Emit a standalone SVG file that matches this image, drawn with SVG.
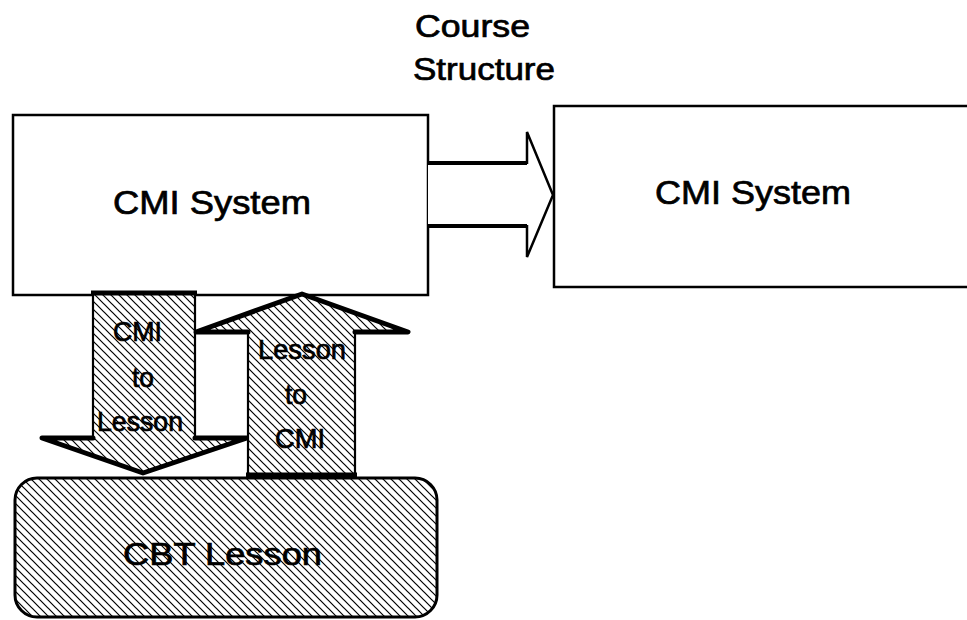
<svg xmlns="http://www.w3.org/2000/svg" width="967" height="620" viewBox="0 0 967 620">
  <defs>
    <!-- diagonal hatch used by the lesson block and the two data-flow arrows -->
    <pattern id="hatch" patternUnits="userSpaceOnUse" width="8" height="8">
      <rect width="8" height="8" fill="#fff"/>
      <path d="M0,0 L8,8 M-2,6 L2,10 M6,-2 L10,2" stroke="#000" stroke-width="1.2"/>
    </pattern>
  </defs>
  <style>
    .box { fill: #fff; stroke: #000; stroke-width: 2.5; }
    .lbl { font-family: "Liberation Sans", Arial, Helvetica, sans-serif; fill: #000; stroke: #000; stroke-width: 0.7; }
    .thin { fill: none; stroke: #000; stroke-width: 2.2; stroke-linejoin: miter; }
    .thick { fill: none; stroke: #000; stroke-width: 5; stroke-linecap: round; stroke-linejoin: round; }
  </style>
  <rect width="967" height="620" fill="#fff"/>

  <!-- lesson block -->
  <g id="cbt-lesson">
    <rect x="15" y="478" width="422" height="139" rx="22" ry="22" fill="url(#hatch)" stroke="#000" stroke-width="3"/>
    <text class="lbl" x="123" y="565" font-size="32" textLength="199" lengthAdjust="spacingAndGlyphs">CBT Lesson</text>
  </g>

  <!-- sending management system -->
  <g id="cmi-left">
    <rect class="box" x="13" y="115" width="415" height="180"/>
    <text class="lbl" x="113" y="214" font-size="33" textLength="198" lengthAdjust="spacingAndGlyphs">CMI System</text>
  </g>

  <!-- receiving management system (runs off the right edge) -->
  <g id="cmi-right">
    <rect class="box" x="554" y="106" width="420" height="181"/>
    <text class="lbl" x="655" y="204" font-size="33" textLength="196" lengthAdjust="spacingAndGlyphs">CMI System</text>
  </g>

  <g id="connectors">
    <!-- course structure transfer arrow -->
    <g id="course-structure-arrow">
      <path d="M428,194 L428,163 L527,163 L527,132 L553,195 L527,257 L527,226 L428,226 Z" fill="#fff" stroke="none"/>
      <path d="M428,163 L527,163 M428,226 L527,226" stroke="#000" stroke-width="4" fill="none"/>
      <path d="M527,164 L527,132 L553,195 L527,257 L527,225" stroke="#000" stroke-width="2.5" fill="none"/>
    </g>

    <!-- CMI to Lesson (down) -->
    <g id="cmi-to-lesson">
      <path d="M93,293 L195,293 L195,438 L247,438 L143,473 L42,438 L93,438 Z" fill="url(#hatch)" stroke="none"/>
      <path class="thin" d="M93,293 L93,438 M195,293 L195,438"/>
      <path d="M91,293 L197,293" stroke="#000" stroke-width="5" fill="none"/>
      <path class="thick" d="M93,438 L42,438 L143,473 L247,438 L195,438"/>
      <text class="lbl" x="113" y="341" font-size="28" textLength="49" lengthAdjust="spacingAndGlyphs">CMI</text>
      <text class="lbl" x="132" y="387" font-size="28" textLength="22" lengthAdjust="spacingAndGlyphs">to</text>
      <text class="lbl" x="97" y="431" font-size="28" textLength="86" lengthAdjust="spacingAndGlyphs">Lesson</text>
    </g>

    <!-- Lesson to CMI (up) -->
    <g id="lesson-to-cmi">
      <path d="M248,475 L355,475 L355,332 L408,332 L302,294 L196,332 L248,332 Z" fill="url(#hatch)" stroke="none"/>
      <path class="thin" d="M248,332 L248,475 M355,332 L355,475"/>
      <path d="M246,475 L357,475" stroke="#000" stroke-width="5" fill="none"/>
      <path class="thick" d="M248,332 L196,332 L302,294 L408,332 L355,332"/>
      <text class="lbl" x="258" y="359" font-size="28" textLength="88" lengthAdjust="spacingAndGlyphs">Lesson</text>
      <text class="lbl" x="285" y="404" font-size="28" textLength="22" lengthAdjust="spacingAndGlyphs">to</text>
      <text class="lbl" x="275" y="448" font-size="28" textLength="50" lengthAdjust="spacingAndGlyphs">CMI</text>
    </g>

    <!-- arrow label -->
    <g id="course-structure-label">
      <text class="lbl" x="415" y="37" font-size="31" textLength="115" lengthAdjust="spacingAndGlyphs">Course</text>
      <text class="lbl" x="413" y="80" font-size="31" textLength="142" lengthAdjust="spacingAndGlyphs">Structure</text>
    </g>
  </g>
</svg>
